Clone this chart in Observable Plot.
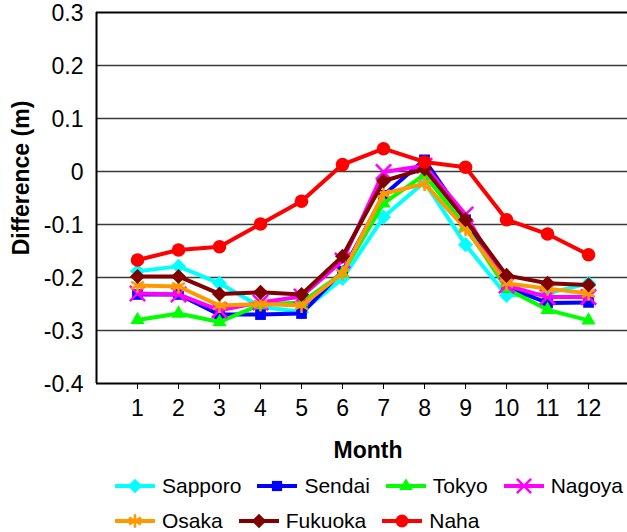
<!DOCTYPE html>
<html>
<head>
<meta charset="utf-8">
<script src="https://cdn.jsdelivr.net/npm/d3@7"></script>
<script src="https://cdn.jsdelivr.net/npm/@observablehq/plot@0.6"></script>
<style>
  html, body { margin: 0; padding: 0; background: #fff; }
  body { width: 627px; height: 532px; overflow: hidden; font-family: "Liberation Sans", Arial, sans-serif; }
  #chart svg { display: block; }
  #legend { padding-top: 3px; }
  .legend-row { display: flex; align-items: center; padding-left: 115px; height: 35px; }
  .legend-item { display: flex; align-items: center; margin-right: 16px; font-size: 21px; color: #000; }
  .legend-item svg { margin-right: 7px; display: block; }
</style>
</head>
<body>
<div id="chart"></div>
<div id="legend"></div>
<script>
const months = [1, 2, 3, 4, 5, 6, 7, 8, 9, 10, 11, 12];
const cities = ["Sapporo", "Sendai", "Tokyo", "Nagoya", "Osaka", "Fukuoka", "Naha"];
const colors = ["#00FFFF", "#0000FF", "#00FF00", "#FF00FF", "#FF9900", "#800000", "#FF0000"];
const symbols = ["diamond2", "square2", "triangle2", "times", "asterisk", "diamond2", "circle"];
const yTicks = [0.3, 0.2, 0.1, 0, -0.1, -0.2, -0.3, -0.4];

const sapporo = [-0.188, -0.179, -0.211, -0.255, -0.265, -0.202, -0.086, -0.020, -0.138, -0.234, -0.230, -0.211];
const sendai  = [-0.232, -0.232, -0.270, -0.270, -0.268, -0.188, -0.045, 0.022, -0.091, -0.218, -0.248, -0.247];
const tokyo   = [-0.280, -0.268, -0.284, -0.251, -0.247, -0.192, -0.060, -0.006, -0.104, -0.221, -0.261, -0.281];
const nagoya  = [-0.230, -0.232, -0.262, -0.247, -0.236, -0.168, -0.001, 0.011, -0.081, -0.215, -0.237, -0.237];
const osaka   = [-0.215, -0.217, -0.253, -0.250, -0.253, -0.192, -0.042, -0.023, -0.108, -0.211, -0.221, -0.230];
const fukuoka = [-0.198, -0.198, -0.231, -0.228, -0.232, -0.160, -0.018, 0.005, -0.091, -0.196, -0.211, -0.214];
const naha    = [-0.167, -0.148, -0.142, -0.099, -0.056, 0.013, 0.043, 0.018, 0.008, -0.091, -0.118, -0.157];
const series = [sapporo, sendai, tokyo, nagoya, osaka, fukuoka, naha];

const data = cities.flatMap((c, i) => series[i].map((v, j) => ({city: c, month: months[j], value: v})));

const font = '"Liberation Sans", Arial, sans-serif';
const marks = [
  Plot.ruleY(yTicks.slice(1, -1), {stroke: "#3a3a3a", strokeWidth: 1.5}),
  Plot.ruleY([yTicks[0]], {stroke: "#000", strokeWidth: 2}),
  Plot.ruleY([yTicks[yTicks.length - 1]], {stroke: "#000", strokeWidth: 2}),
  Plot.ruleX([0], {stroke: "#000", strokeWidth: 2}),
  Plot.axisY({ticks: yTicks, tickSize: 0, tickPadding: 13, fontSize: 23, label: null, dy: 1,
    tickFormat: d => d === 0 ? "0" : d.toFixed(1)}),
  Plot.axisX({ticks: months, tickSize: 6, tickPadding: 10, fontSize: 23, label: null, tickFormat: d => String(d)})
];
cities.forEach((c, i) => {
  const sub = data.filter(d => d.city === c);
  marks.push(Plot.line(sub, {x: "month", y: "value", stroke: colors[i], strokeWidth: 4}));
  const stroked = symbols[i] === "times" || symbols[i] === "asterisk";
  marks.push(Plot.dot(sub, stroked
    ? {x: "month", y: "value", symbol: symbols[i], stroke: colors[i], strokeWidth: 2.5, r: 7}
    : {x: "month", y: "value", symbol: symbols[i], fill: colors[i], stroke: "none", r: 6.8}));
});

const chart = Plot.plot({
  width: 627,
  height: 465,
  marginLeft: 96,
  marginRight: 0,
  marginTop: 12,
  marginBottom: 82,
  style: {fontFamily: font, color: "#000", background: "#fff", overflow: "visible"},
  x: {domain: [0, 12.95]},
  y: {domain: [-0.4, 0.3]},
  marks
});
document.getElementById("chart").appendChild(chart);

const svg = d3.select(chart);
svg.append("text")
  .attr("transform", "translate(23,178) rotate(-90)")
  .attr("text-anchor", "middle").attr("dominant-baseline", "middle")
  .style("font-family", font).style("font-size", "23px").style("font-weight", "bold")
  .text("Difference (m)");
svg.append("text")
  .attr("x", 368).attr("y", 452)
  .attr("text-anchor", "middle").attr("dominant-baseline", "middle")
  .style("font-family", font).style("font-size", "23px").style("font-weight", "bold")
  .text("Month");

const symbolMap = {diamond2: d3.symbolDiamond2, square2: d3.symbolSquare2, triangle2: d3.symbolTriangle2,
  times: d3.symbolTimes, asterisk: d3.symbolAsterisk, circle: d3.symbolCircle};
const legend = d3.select("#legend");
[[0, 4], [4, 7]].forEach(([a, b]) => {
  const row = legend.append("div").attr("class", "legend-row");
  for (let i = a; i < b; i++) {
    const item = row.append("div").attr("class", "legend-item");
    const s = item.append("svg").attr("width", 40).attr("height", 20);
    s.append("line").attr("x1", 0).attr("x2", 40).attr("y1", 10).attr("y2", 10)
      .attr("stroke", colors[i]).attr("stroke-width", 4);
    const stroked = symbols[i] === "times" || symbols[i] === "asterisk";
    s.append("path").attr("transform", "translate(20,10)")
      .attr("d", d3.symbol(symbolMap[symbols[i]], Math.PI * 6.5 * 6.5)())
      .attr("fill", stroked ? "none" : colors[i])
      .attr("stroke", stroked ? colors[i] : "none")
      .attr("stroke-width", 2.5);
    item.append("span").text(cities[i]);
  }
});
</script>
</body>
</html>
